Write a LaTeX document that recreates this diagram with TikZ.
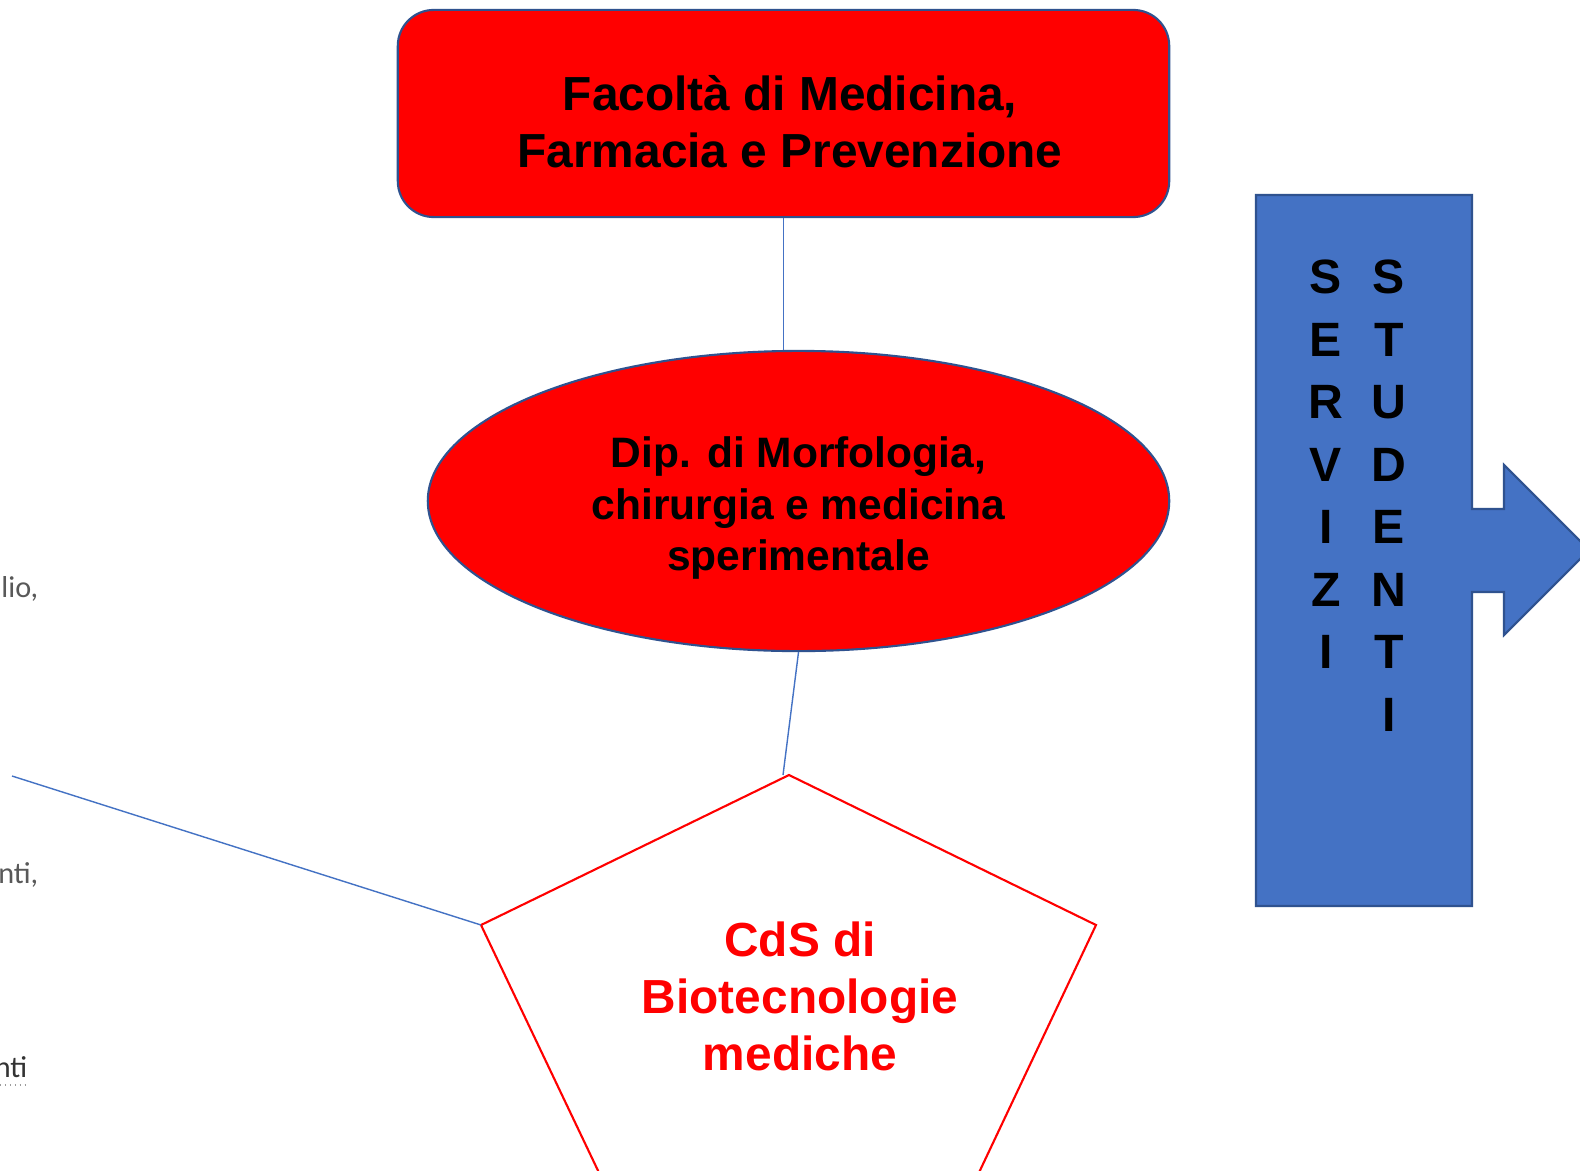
\documentclass[tikz,border=0pt]{standalone}
\usepackage{fontspec}
\setmainfont{Liberation Sans}
\newfontfamily\calfont{Carlito}
\usetikzlibrary{shapes.geometric}
\definecolor{boxred}{HTML}{FF0000}
\definecolor{edgeblue}{HTML}{2F528F}
\definecolor{linkblue}{HTML}{4472C4}
\definecolor{fadegray}{HTML}{595959}
\begin{document}
\begin{tikzpicture}[
    x=0.01cm, y=-0.01cm,
    facbox/.style={rectangle, rounded corners=0.36cm, draw=edgeblue, line width=0.6pt, fill=boxred,
        minimum width=7.71cm, minimum height=2.07cm, inner sep=0pt},
    dipshape/.style={ellipse, draw=edgeblue, line width=0.6pt, fill=boxred,
        minimum width=7.41cm, minimum height=3.0cm, inner sep=0pt},
    bigtext/.style={align=center, inner sep=0pt, font=\bfseries\fontsize{13.6}{16.2}\selectfont},
    diptext/.style={align=center, inner sep=0pt, font=\bfseries\fontsize{12.1}{14.6}\selectfont},
    cdsline/.style={draw=boxred, line width=0.6pt},
    link/.style={draw=linkblue, line width=0.4pt},
    letter/.style={font=\bfseries\fontsize{13.7}{14}\selectfont, inner sep=0pt, anchor=center},
    cut/.style={text=fadegray, font=\calfont\fontsize{8.6}{10}\selectfont, inner sep=0pt, anchor=east}
]

% page frame
\clip (0,0) rectangle (1580,1170);
\fill[white] (0,0) rectangle (1580,1170);

% Faculty box
\node[facbox] (fac) at (783.5,113.5) {};
\node[bigtext] (factext) at (790,122) {Facolt\`a di Medicina,\\Farmacia e Prevenzione};

% Department ellipse
\node[dipshape] (dip) at (798.5,501) {};
\node[diptext] (diptext) at (798.5,508) {Dip. di Morfologia,\\chirurgia e medicina\\sperimentale};

% Course pentagon (cut by the bottom edge)
\coordinate (cdstop) at (789,775);
\coordinate (cdsleft) at (481,925);
\coordinate (cdsright) at (1096,925);
\coordinate (cdsbl) at (612,1200);
\coordinate (cdsbr) at (966,1200);
\coordinate (cdslink) at (783,775);
\draw[cdsline] (cdsbl) -- (cdsleft) -- (cdstop) -- (cdsright) -- (cdsbr);
\node[bigtext, text=boxred] (cds) at (800,996) {CdS di\\Biotecnologie\\mediche};

% Connectors
\coordinate (farleft) at (12,776);
\draw[link] (fac.south) -- (fac.south |- dip.north);
\draw[link] (dip.south) -- (cdslink);
\draw[link] (farleft) -- (cdsleft);

% Student services arrow
\draw[fill=linkblue, draw=edgeblue, line width=0.6pt]
    (1256,195) -- (1472,195) -- (1472,509) -- (1504,509) -- (1504,465)
    -- (1589,550) -- (1504,635) -- (1504,592) -- (1472,592)
    -- (1472,906) -- (1256,906) -- cycle;
\foreach \ch [count=\k from 0] in {S,E,R,V,I,Z,I} {
    \node[letter] (serv\k) at (1326,277+\k*62.5) {\ch};
}
\foreach \ch [count=\k from 0] in {S,T,U,D,E,N,T,I} {
    \node[letter] (stud\k) at (1389,277+\k*62.5) {\ch};
}

% Cut-off text at the left edge
\node[cut] (frag1) at (39,589) {lio,};
\node[cut] (frag2) at (39,875) {nti,};
\node[cut, text=black!80] (frag3) at (28,1067) {nti};
\draw[densely dotted, fadegray!60] (0,1085) -- (28,1085);

\end{tikzpicture}
\end{document}
